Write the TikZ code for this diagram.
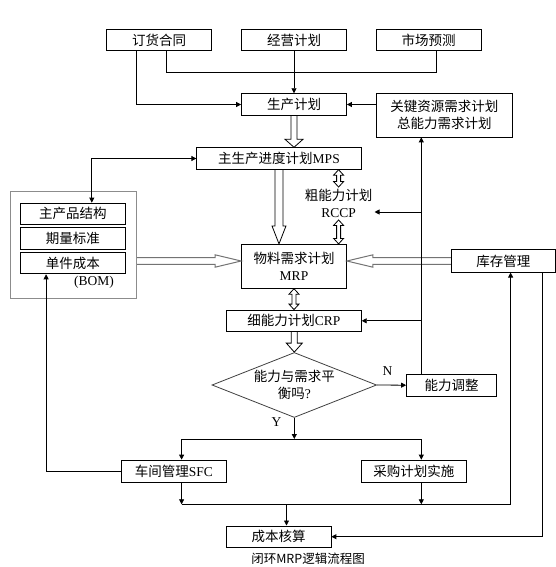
\documentclass[tikz,border=0pt]{standalone}
\usepackage{fontspec}
\setmainfont{Noto Sans CJK SC}
\newfontfamily\lat{Liberation Serif}
\usetikzlibrary{calc,shapes.geometric,arrows.meta,positioning}

\tikzset{
  box/.style={draw, line width=0.8pt, minimum width=105pt, minimum height=21.6pt, inner sep=0pt,
    align=center, font=\fontsize{13.5}{17}\selectfont},
  lbl/.style={inner sep=0pt, align=center, font=\fontsize{13.5}{17}\selectfont},
  ln/.style={line width=0.8pt},
  arr/.style={line width=0.8pt, -{Triangle[length=5pt,width=5pt]}},
  arrboth/.style={line width=0.8pt, {Triangle[length=5pt,width=5pt]}-{Triangle[length=5pt,width=5pt]}},
  blk/.style={line width=0.8pt, line join=miter},
  blkgray/.style={line width=1pt, draw=black!55, line join=miter},
}

% hollow arrow: [style]{from}{to}{shaft}{head}{head length}
\newcommand{\blockarrow}[6][blk]{
  \coordinate (ba-h) at ($(#3)!#6!(#2)$);
  \draw[#1] ($(#2)!#4!90:(#3)$) -- ($(ba-h)!#4!90:(#3)$) -- ($(ba-h)!#5!90:(#3)$) -- (#3)
    -- ($(ba-h)!#5!-90:(#3)$) -- ($(ba-h)!#4!-90:(#3)$) -- ($(#2)!#4!-90:(#3)$);
}
% hollow arrow with two heads: {from}{to}{shaft}{head}{head length}
\newcommand{\dblockarrow}[5]{
  \coordinate (ba-a) at ($(#1)!#5!(#2)$);
  \coordinate (ba-b) at ($(#2)!#5!(#1)$);
  \draw[blk] (#1) -- ($(ba-a)!#4!90:(#2)$) -- ($(ba-a)!#3!90:(#2)$) -- ($(ba-b)!#3!90:(#2)$)
    -- ($(ba-b)!#4!90:(#2)$) -- (#2) -- ($(ba-b)!#4!-90:(#2)$) -- ($(ba-b)!#3!-90:(#2)$)
    -- ($(ba-a)!#3!-90:(#2)$) -- ($(ba-a)!#4!-90:(#2)$) -- cycle;
}

\begin{document}
\begin{tikzpicture}[x=1pt,y=-1pt]
\useasboundingbox (0,0) rectangle (556,567);

\node[box] (order) at (159,40) {订货合同};
\node[box] (plan) at (294,40) {经营计划};
\node[box] (fore) at (428.7,40) {市场预测};
\node[box] (prod) at (294,104.5) {生产计划};
\node[box, minimum width=136pt, minimum height=43.3pt] (keyres) at (444.3,115.3) {关键资源需求计划\\总能力需求计划};
\node[box, minimum width=164.5pt] (mps) at (279,158.5) {主生产进度计划{\lat MPS}};
\node[lbl, inner sep=2pt] (rccp) at (338.6,203.5) {粗能力计划\\{\lat RCCP}};
\node[box, minimum height=44pt] (mrp) at (294,266.3) {物料需求计划\\{\lat MRP}};

% BOM
\node[draw=black!45, line width=1pt, minimum width=126pt, minimum height=106.6pt] (bom) at (73.5,245) {};
\foreach \n/\t/\y in {bom1/主产品结构/213.8, bom2/期量标准/238.3, bom3/单件成本/263.1}
    \node[box, minimum height=21.5pt] (\n) at (72.9,\y) {\t};
\node[lbl] (bomlbl) at (94,282.7) {\lat (BOM)};

\node[box, minimum width=104.2pt, minimum height=22.3pt] (stock) at (503.4,261) {库存管理};
\node[box, minimum width=135pt] (crp) at (293.8,320.8) {细能力计划{\lat CRP}};
\node[draw=black!75, line width=0.8pt, diamond, aspect=2.5, minimum width=164.6pt, minimum height=65pt, inner sep=0pt,
      align=center, font=\fontsize{13.5}{16.7}\selectfont] (dec) at (294.3,385) {能力与需求平\\衡吗{\lat ?}};
\node[box, minimum width=90pt, minimum height=22.3pt] (adj) at (451.5,385.2) {能力调整};
\node[lbl] (nlbl) at (387.6,371.5) {\lat N};
\node[lbl] (ylbl) at (276.6,421.7) {\lat Y};
\node[box, minimum width=104.6pt, minimum height=22.3pt] (sfc) at (173.9,471.2) {车间管理{\lat SFC}};
\node[box, minimum height=22.3pt] (buy) at (413.8,471.2) {采购计划实施};
\node[box, minimum width=104.5pt] (cost) at (278.7,536.7) {成本核算};
\node[lbl, font=\fontsize{12.5}{15}\selectfont] (cap) at (308,558.5) {闭环MRP逻辑流程图};

\coordinate (fb) at (421.3,0);
\coordinate (split) at (294.3,439);
\coordinate (merge) at (286.5,504.3);
\coordinate (rc) at ([yshift=-8.5pt]rccp.east);
\coordinate (mainin) at ([xshift=18.9pt]bom1.north);
\coordinate (unitin) at ([xshift=-26.8pt]bom3.south);
\coordinate (sfcin) at ([xshift=7.7pt]sfc.north);
\coordinate (sfcout) at ([xshift=7.7pt]sfc.south);
\coordinate (buyin) at ([xshift=7.5pt]buy.north);
\coordinate (buyout) at ([xshift=7.5pt]buy.south);
\coordinate (stockin) at ([xshift=7.2pt]stock.south);
\coordinate (stockout) at ([xshift=39.2pt]stock.south);

% inputs
\draw[arr] ([xshift=-22.5pt]order.south) |- (prod.west);
\draw[ln] ([xshift=7pt]order.south) -- ++(0,21.3) -| ([xshift=7.8pt]fore.south);
\draw[arr] (plan.south) -- (prod.north);
\draw[arr] (keyres.west |- prod.east) -- (prod.east);
\draw[arrboth] (mainin) |- (mps.west);

% hollow arrows
\blockarrow{prod.south}{prod.south |- mps.north}{3pt}{9pt}{8pt}
\blockarrow{mps.south}{mps.south |- mrp.north}{4pt}{7pt}{18pt}
\dblockarrow{mps.south -| rccp.north}{rccp.north}{2pt}{5pt}{5.5pt}
\dblockarrow{rccp.south}{rccp.south |- mrp.north}{2pt}{5pt}{5.5pt}
\dblockarrow{mrp.south}{mrp.south |- crp.north}{2pt}{5pt}{5.5pt}
\blockarrow{dec.north |- crp.south}{dec.north}{3pt}{8pt}{9pt}
\blockarrow[blkgray]{bom.east |- stock.west}{mrp.west |- stock.west}{3.3pt}{6.2pt}{26pt}
\blockarrow[blkgray]{stock.west}{mrp.east |- stock.west}{3.3pt}{6.2pt}{26pt}

% feedback
\draw[arr] (adj.north -| fb) -- (keyres.south -| fb);
\draw[arr] (rc -| fb) -- (rc);
\draw[arr] (crp.east -| fb) -- (crp.east);
\draw[arr] (dec.east) -- (adj.west);

\draw[arr] (dec.south) -- (split);
\draw[arr] (split) -| (sfcin);
\draw[arr] (split) -| (buyin);
\draw[arr] (sfc.west) -| (unitin);
\draw[arr] (sfcout) -- (sfcout |- merge);
\draw[arr] (buyout) -- (buyout |- merge);
\draw[arr] (sfcout |- merge) -| (stockin);
\draw[arr] (merge) -- (merge |- cost.north);
\draw[arr] (stockout) |- (cost.east);
\end{tikzpicture}
\end{document}
